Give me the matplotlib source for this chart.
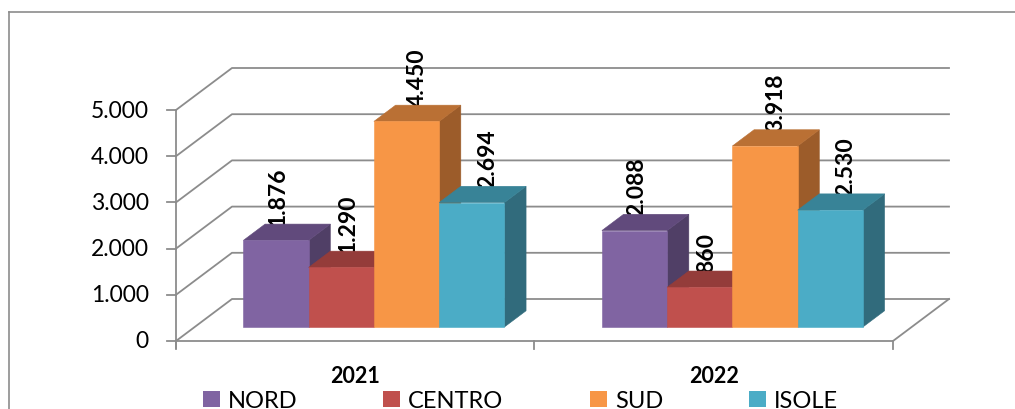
import matplotlib
matplotlib.use('Agg')
import matplotlib.pyplot as plt
from matplotlib.patches import Polygon, Rectangle

plt.rcParams['font.family'] = ['Lato', 'DejaVu Sans']

# data
years = ['2021', '2022']
series = ['NORD', 'CENTRO', 'SUD', 'ISOLE']
values = {
    'NORD':   [1876, 2088],
    'CENTRO': [1290, 860],
    'SUD':    [4450, 3918],
    'ISOLE':  [2694, 2530],
}
yticks = [0, 1000, 2000, 3000, 4000, 5000]
ytick_labels = ['0', '1.000', '2.000', '3.000', '4.000', '5.000']

# front / top / side shades
colors = {
    'NORD':   ('#8064A2', '#614A7C', '#503F66'),
    'CENTRO': ('#C0504D', '#943C3A', '#7E3331'),
    'SUD':    ('#F79646', '#BA7034', '#9C5C2A'),
    'ISOLE':  ('#4BACC6', '#388397', '#316B7C'),
}

# oblique projection of (category pos, value, depth) to pixel coords
X0, SX, DX = 176.0, 358.5, 56.0
Y0, SY, DY = 342.0, 231.0 / 5000, 42.0


def proj(u, v, d):
    return (X0 + SX * u + DX * d, Y0 - v * SY - DY * d)


fig = plt.figure(figsize=(10.15, 4.10), dpi=100)
ax = fig.add_axes([0, 0, 1, 1])
ax.set_xlim(0, 1015)
ax.set_ylim(410, 0)
ax.axis('off')

grid = '#8c8c8c'
lw = 1.3
umax = len(years)

# outer frame (only top and left visible)
ax.plot([9, 1015], [13, 13], color=grid, lw=1.2, zorder=1)
ax.plot([9, 9], [13, 410], color=grid, lw=1.2, zorder=1)

# walls and gridlines
for v, lab in zip(yticks, ytick_labels):
    p0 = proj(0, v, 0)
    p1 = proj(0, v, 1)
    p2 = proj(umax, v, 1)
    ax.plot([p0[0], p1[0], p2[0]], [p0[1], p1[1], p2[1]], color=grid, lw=lw, zorder=2)
    ax.plot([p0[0] - 9, p0[0]], [p0[1], p0[1]], color=grid, lw=lw, zorder=2)
    ax.text(p0[0] - 27, p0[1], lab, ha='right', va='center', fontsize=16.5, color='#000000')

# floor front line and right edge
f0 = proj(0, 0, 0)
f1 = proj(umax, 0, 0)
f2 = proj(umax, 0, 1)
ax.plot([f0[0], f1[0], f2[0]], [f0[1], f1[1], f2[1]], color=grid, lw=lw, zorder=2)
# y axis line
top = proj(0, yticks[-1], 0)
ax.plot([f0[0], top[0]], [f0[1] + 7, top[1]], color=grid, lw=lw, zorder=2)
# category ticks
for i in range(umax + 1):
    p = proj(i, 0, 0)
    ax.plot([p[0], p[0]], [p[1], p[1] + 8], color=grid, lw=lw, zorder=2)

# bars
bw = 0.182
df, db = 0.333, 0.72
for gi, yr in enumerate(years):
    start = gi + 0.5 - 2 * bw
    for si, name in enumerate(series):
        h = values[name][gi]
        u0 = start + si * bw
        u1 = u0 + bw
        cf, ct, cs = colors[name]
        front = [proj(u0, 0, df), proj(u1, 0, df), proj(u1, h, df), proj(u0, h, df)]
        topf = [proj(u0, h, df), proj(u1, h, df), proj(u1, h, db), proj(u0, h, db)]
        side = [proj(u1, 0, df), proj(u1, 0, db), proj(u1, h, db), proj(u1, h, df)]
        z = 5 + gi * 10 + si
        for pts, c in ((side, cs), (topf, ct), (front, cf)):
            ax.add_patch(Polygon(pts, closed=True, facecolor=c, edgecolor=c, lw=0.4, zorder=z))
        # value label, drawn behind the bars
        lx, _ = proj((u0 + u1) / 2, h, df)
        _, ly = proj(u0, h, db)
        ax.text(lx + 2 + 4.5 * si, ly + 1, f'{h:,}'.replace(',', '.'), rotation=90,
                ha='center', va='bottom', fontsize=16.5, fontweight='bold',
                color='#000000', zorder=4)
    cx, _ = proj(gi + 0.5, 0, 0)
    ax.text(cx, 377, yr, ha='center', va='center', fontsize=15.5, fontweight='bold')

# legend
legend_x = [203, 383, 590, 749]
for name, lxp in zip(series, legend_x):
    ax.add_patch(Rectangle((lxp, 392), 17, 16, facecolor=colors[name][0], edgecolor='none', zorder=3))
    ax.text(lxp + 25, 408, name, ha='left', va='baseline', fontsize=17, color='#000000')

fig.savefig('out.png', dpi=100)
